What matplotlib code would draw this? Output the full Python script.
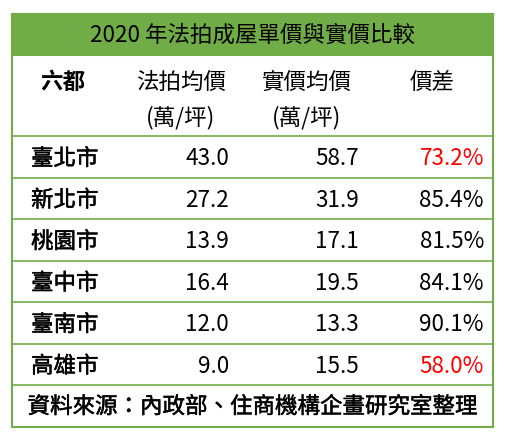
import matplotlib.pyplot as plt
import matplotlib.patheffects as pe
from matplotlib.patches import Rectangle

plt.rcParams['font.family'] = ['Noto Sans CJK TC', 'DejaVu Sans']

title = '2020 年法拍成屋單價與實價比較'
headers = ['六都', '法拍均價', '實價均價', '價差']
units = ['', '(萬/坪)', '(萬/坪)', '']
cities = ['臺北市', '新北市', '桃園市', '臺中市', '臺南市', '高雄市']
auction = [43.0, 27.2, 13.9, 16.4, 12.0, 9.0]
market = [58.7, 31.9, 17.1, 19.5, 13.3, 15.5]
ratio = [73.2, 85.4, 81.5, 84.1, 90.1, 58.0]
highlight = ['臺北市', '高雄市']
source = '資料來源：內政部、住商機構企畫研究室整理'

green = '#70AD47'
W, H = 519, 446
fig = plt.figure(figsize=(W / 100, H / 100), dpi=100)
ax = fig.add_axes([0, 0, 1, 1])
ax.set_xlim(0, W)
ax.set_ylim(H, 0)
ax.axis('off')

left, right = 12, 493
top, title_bot, head_bot = 14, 55, 136
row_h = 41.5
bottom = head_bot + row_h * (len(cities) + 1)
fs = 16.2
medium = [pe.withStroke(linewidth=0.35, foreground='black')]

# title band
ax.add_patch(Rectangle((left, top), right - left, title_bot - top,
                       facecolor=green, edgecolor=green, lw=1.5))
ax.text((left + right) / 2, (top + title_bot) / 2 + 1, title,
        ha='center', va='center', fontsize=fs, color='black')

# outer border
ax.add_patch(Rectangle((left, top), right - left, bottom - top,
                       fill=False, edgecolor=green, lw=1.5))

# header
hx = [63, 181, 307, 432]
for i, (h, u) in enumerate(zip(headers, units)):
    ax.text(hx[i], 82, h, ha='center', va='center', fontsize=fs,
            fontweight='bold' if i == 0 else 'normal')
    if u:
        ax.text(hx[i], 118, u, ha='center', va='center', fontsize=fs)

# rows
for k in range(len(cities) + 1):
    y = head_bot + row_h * k
    ax.plot([left, right], [y, y], color=green, lw=1.2)

for k, c in enumerate(cities):
    yc = head_bot + row_h * k + row_h / 2 + 2
    ax.text(31, yc, c, ha='left', va='center', fontsize=fs, path_effects=medium)
    ax.text(229, yc, f'{auction[k]:.1f}', ha='right', va='center', fontsize=fs)
    ax.text(359, yc, f'{market[k]:.1f}', ha='right', va='center', fontsize=fs)
    ax.text(484, yc, f'{ratio[k]:.1f}%', ha='right', va='center', fontsize=fs,
            color='#FF0000' if c in highlight else 'black')

ax.text((left + right) / 2, bottom - row_h / 2 + 1, source,
        ha='center', va='center', fontsize=fs, path_effects=medium)

fig.savefig('out.png', dpi=100)
